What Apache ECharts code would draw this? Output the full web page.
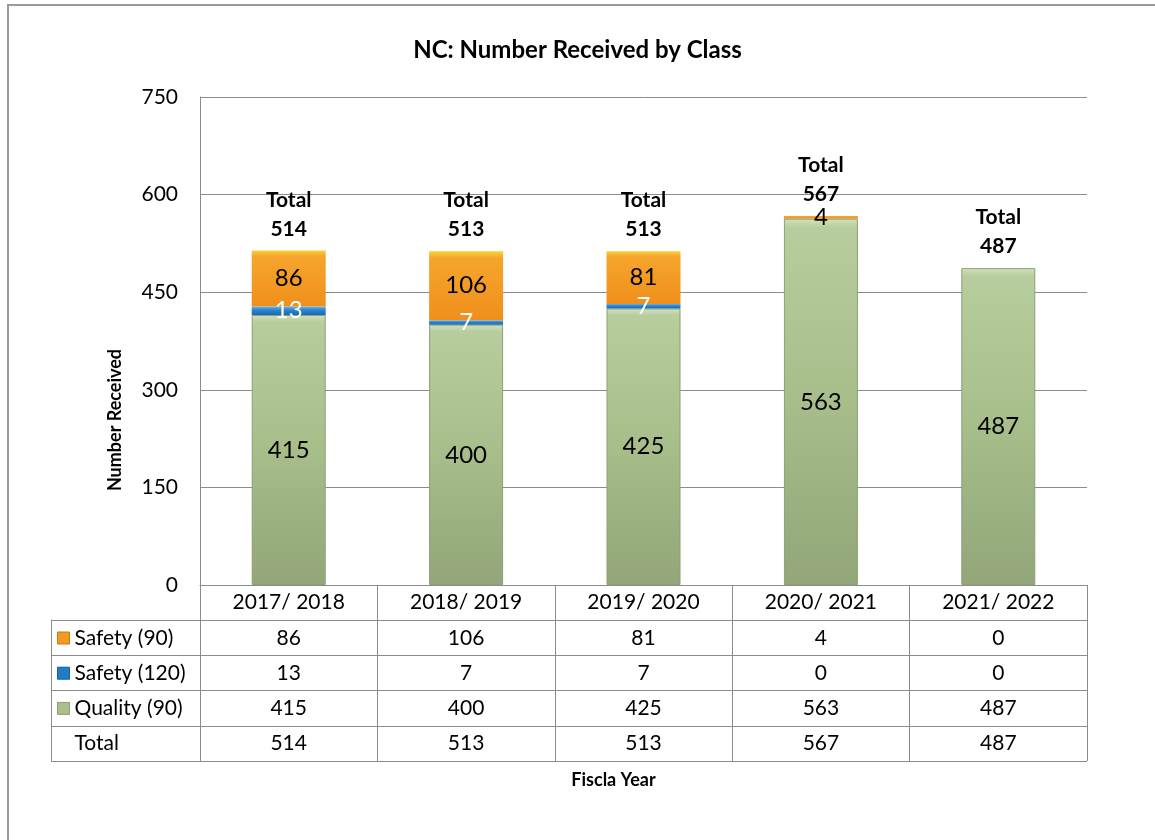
<!DOCTYPE html>
<html>
<head>
<meta charset="utf-8">
<script src="https://cdn.jsdelivr.net/npm/echarts@6/dist/echarts.min.js"></script>
<style>
html,body{margin:0;padding:0;background:#fff;}
#c{width:1155px;height:840px;}
</style>
</head>
<body>
<div id="c"></div>
<script>
const categories = ['2017/ 2018', '2018/ 2019', '2019/ 2020', '2020/ 2021', '2021/ 2022'];
const safety90 = [86, 106, 81, 4, 0];
const safety120 = [13, 7, 7, 0, 0];
const quality90 = [415, 400, 425, 563, 487];
const totals = [514, 513, 513, 567, 487];
const yTicks = { min: 0, max: 750, interval: 150 };

const FONT = 'Lato, "Open Sans", sans-serif';
const chart = echarts.init(document.getElementById('c'));

const greenGrad = new echarts.graphic.LinearGradient(0, 0, 0, 1, [
  { offset: 0, color: '#d2e2bd' }, { offset: 0.025, color: '#b8cd9d' },
  { offset: 0.5, color: '#a7bd8a' }, { offset: 1, color: '#92a679' }
]);
const orangeGrad = new echarts.graphic.LinearGradient(0, 0, 0, 1, [
  { offset: 0, color: '#f8d23a' }, { offset: 0.1, color: '#f5a52c' },
  { offset: 1, color: '#f0901c' }
]);
const blueGrad = new echarts.graphic.LinearGradient(0, 0, 0, 1, [
  { offset: 0, color: '#6ab6f0' }, { offset: 0.4, color: '#2a86d2' },
  { offset: 1, color: '#1868b4' }
]);

const hideZero = p => (p.value ? String(p.value) : '');

const option = {
  animation: false,
  backgroundColor: '#fff',
  textStyle: { fontFamily: FONT },
  title: {
    text: 'NC: Number Received by Class',
    left: 'center',
    top: 33,
    textStyle: { fontFamily: FONT, fontSize: 24, fontWeight: 'bold', color: '#000' }
  },
  legend: {
    orient: 'vertical',
    left: 57,
    top: 627.5,
    padding: 0,
    icon: 'rect',
    itemWidth: 12,
    itemHeight: 12,
    itemGap: 14.2,
    selectedMode: false,
    textStyle: { fontFamily: FONT, fontSize: 21, lineHeight: 21, color: '#000' },
    data: [
      { name: 'Safety (90)', itemStyle: { color: '#f39a22', borderColor: '#c77a10', borderWidth: 1 } },
      { name: 'Safety (120)', itemStyle: { color: '#1f7cc8', borderColor: '#155f9c', borderWidth: 1 } },
      { name: 'Quality (90)', itemStyle: { color: '#a9bf8c', borderColor: '#8a9e70', borderWidth: 1 } },
      { name: 'Total', itemStyle: { color: 'rgba(0,0,0,0)', borderWidth: 0 } }
    ]
  },
  grid: [
    { left: 200, right: 68, top: 97, bottom: 255 },
    { left: 51, right: 68, top: 620, bottom: 79 }
  ],
  xAxis: [
    {
      type: 'category',
      gridIndex: 0,
      data: categories,
      axisLine: { show: true, lineStyle: { color: '#8c8c8c', width: 1 } },
      axisTick: { show: true, length: 176, lineStyle: { color: '#8c8c8c', width: 1 } },
      axisLabel: {
        margin: 0,
        fontFamily: FONT,
        fontSize: 21,
        lineHeight: 35.2,
        color: '#000',
        formatter: (v, i) => [v, safety90[i], safety120[i], quality90[i], totals[i]].join('\n')
      },
      name: 'Fiscla Year',
      nameLocation: 'middle',
      nameGap: 186,
      nameTextStyle: { fontFamily: FONT, fontSize: 18, fontWeight: 'bold', color: '#000', padding: [0, 60, 0, 0] }
    },
    {
      type: 'value', gridIndex: 1, show: false
    }
  ],
  yAxis: [
    {
      type: 'value',
      gridIndex: 0,
      min: yTicks.min,
      max: yTicks.max,
      interval: yTicks.interval,
      axisLine: { show: true, lineStyle: { color: '#8c8c8c' } },
      axisTick: { show: false },
      splitLine: { show: true, lineStyle: { color: '#8c8c8c', width: 1 } },
      axisLabel: { margin: 22, fontFamily: FONT, fontSize: 21, color: '#000' }
    },
    {
      type: 'value',
      gridIndex: 1,
      min: 0, max: 4, interval: 1,
      axisLine: { show: true, lineStyle: { color: '#8c8c8c' } },
      axisTick: { show: false },
      axisLabel: { show: false },
      splitLine: { show: true, lineStyle: { color: '#8c8c8c', width: 1 } }
    }
  ],
  graphic: [
    {
      type: 'rect', silent: true, z: -10,
      shape: { x: 8, y: 5, width: 1200, height: 900 },
      style: { fill: 'none', stroke: '#9a9a9a', lineWidth: 2 }
    },
    {
      type: 'text', x: 115, y: 420, rotation: Math.PI / 2,
      style: {
        text: 'Number Received', fontFamily: FONT, fontSize: 18, fontWeight: 'bold',
        fill: '#000', align: 'center', verticalAlign: 'middle'
      }
    }
  ],
  series: [
    {
      name: 'Quality (90)', type: 'bar', stack: 'a', barWidth: 74,
      data: quality90,
      itemStyle: { color: greenGrad, borderColor: '#8d9f75', borderWidth: 1 },
      label: { show: true, position: 'inside', fontFamily: FONT, fontSize: 24, color: '#000', formatter: hideZero }
    },
    {
      name: 'Safety (120)', type: 'bar', stack: 'a', barWidth: 74,
      data: safety120,
      itemStyle: { color: blueGrad, borderWidth: 0 },
      label: { show: true, position: 'inside', fontFamily: FONT, fontSize: 24, color: '#fff', formatter: hideZero }
    },
    {
      name: 'Safety (90)', type: 'bar', stack: 'a', barWidth: 74,
      data: safety90,
      itemStyle: { color: orangeGrad, borderWidth: 0 },
      label: { show: true, position: 'inside', fontFamily: FONT, fontSize: 24, color: '#000', formatter: hideZero }
    },
    {
      name: 'Total', type: 'bar', barWidth: 74, barGap: '-100%', z: 1,
      data: totals,
      itemStyle: { color: 'rgba(0,0,0,0)' },
      label: {
        show: true, position: 'top', distance: 7,
        fontFamily: FONT, fontSize: 21, fontWeight: 'bold', lineHeight: 29, color: '#000',
        formatter: p => 'Total\n' + p.value
      }
    }
  ]
};
chart.setOption(option);
</script>
</body>
</html>
